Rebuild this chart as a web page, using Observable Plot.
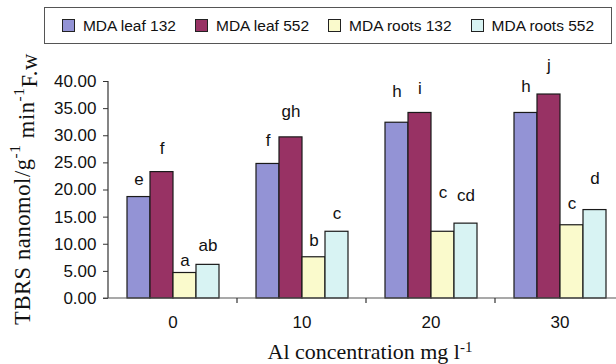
<!DOCTYPE html>
<html><head><meta charset="utf-8">
<script src="https://cdn.jsdelivr.net/npm/d3@7"></script>
<script src="https://cdn.jsdelivr.net/npm/@observablehq/plot@0.6"></script>
<style>
body{margin:0;background:#fff;}
#wrap{width:616px;height:364px;overflow:hidden;background:#fff;}
#legendRow{height:50px;position:relative;}
#legend{position:absolute;left:44px;top:7px;width:566px;height:35px;border:1px solid #555;display:flex;align-items:center;justify-content:center;gap:19px;font-family:"Liberation Sans",Arial,sans-serif;font-size:15.5px;color:#111;}
.item{display:flex;align-items:center;gap:8px}
.sw{width:13px;height:13px;border:1px solid #222;box-sizing:border-box}
svg{display:block}
</style>
</head><body>
<div id="wrap"><div id="legendRow"><div id="legend"></div></div><div id="chart"></div></div>
<script>
const concentrations = ["0", "10", "20", "30"];
const series = ["MDA leaf 132", "MDA leaf 552", "MDA roots 132", "MDA roots 552"];
const colors = ["#9393d5", "#983264", "#fafacc", "#d8f3f3"];
const leaf132 = [18.7, 24.8, 32.4, 34.2];
const leaf552 = [23.3, 29.7, 34.2, 37.6];
const roots132 = [4.7, 7.6, 12.3, 13.5];
const roots552 = [6.2, 12.3, 13.8, 16.3];
const lettersLeaf132 = ["e", "f", "h", "h"];
const lettersLeaf552 = ["f", "gh", "i", "j"];
const lettersRoots132 = ["a", "b", "c", "c"];
const lettersRoots552 = ["ab", "c", "cd", "d"];
// letter heights (data units)
const letterYLeaf132 = [21.9, 29.1, 38.2, 39.1];
const letterYLeaf552 = [27.6, 34.5, 38.7, 42.9];
const letterYRoots132 = [7.0, 10.7, 19.6, 17.5];
const letterYRoots552 = [9.8, 15.7, 19.0, 22.1];
const yTicks = [0, 5, 10, 15, 20, 25, 30, 35, 40];

const values = [leaf132, leaf552, roots132, roots552];
const letters = [lettersLeaf132, lettersLeaf552, lettersRoots132, lettersRoots552];
const letterY = [letterYLeaf132, letterYLeaf552, letterYRoots132, letterYRoots552];

const data = [];
concentrations.forEach((c, i) => series.forEach((s, j) => data.push({
  conc: c, series: s, value: values[j][i], letter: letters[j][i], ly: letterY[j][i]
})));

// legend
const leg = d3.select("#legend");
series.forEach((s, j) => {
  const it = leg.append("div").attr("class", "item");
  it.append("div").attr("class", "sw").style("background", colors[j]);
  it.append("span").text(s);
});

const plot = Plot.plot({
  width: 616, height: 314,
  marginLeft: 108, marginRight: -8, marginTop: 31, marginBottom: 66,
  style: {fontFamily: "'Liberation Sans', Arial, sans-serif", fontSize: "17px", background: "white", color: "#111", overflow: "hidden"},
  fx: {domain: concentrations, padding: 0, label: null},
  x: {domain: series, paddingInner: 0, paddingOuter: 0.774, axis: null},
  y: {domain: [0, 40], label: null},
  color: {domain: series, range: colors},
  marks: [
    Plot.barY(data, {fx: "conc", x: "series", y: "value", fill: "series", stroke: "#1a1a1a", strokeWidth: 1.2}),
    Plot.text(data, {fx: "conc", x: "series", y: "ly", text: "letter", fontSize: 17, fill: "#111"}),
    Plot.axisY(yTicks, {tickFormat: d3.format(".2f"), tickSize: 5, tickPadding: 7, fontSize: 17, label: null, stroke: "#333"}),
    Plot.axisFx({anchor: "bottom", tickSize: 0, tickPadding: 17, fontSize: 17, label: null})
  ]
});
document.getElementById("chart").appendChild(plot);

const svg = d3.select(plot);
const fx = plot.scale("fx"), y = plot.scale("y");
const y0 = y.apply(0), yTop = y.apply(40);
const left = fx.apply(concentrations[0]);
const g = svg.append("g").attr("stroke", "#333").attr("stroke-width", 1.2);
g.append("line").attr("x1", left).attr("x2", left).attr("y1", yTop).attr("y2", y0);
g.append("line").attr("x1", left - 5).attr("x2", 616).attr("y1", y0).attr("y2", y0).attr("stroke", "#555");
concentrations.slice(1).forEach(c => {
  const x = fx.apply(c);
  g.append("line").attr("x1", x).attr("x2", x).attr("y1", y0).attr("y2", y0 + 5);
});

function sup(t, s) { t.append("tspan").attr("font-size", "0.68em").attr("dy", "-0.5em").text(s); }
const xl = svg.append("text").attr("x", 370).attr("y", 309).attr("text-anchor", "middle")
  .attr("font-family", "'Liberation Serif', 'Times New Roman', serif").attr("font-size", 22).attr("fill", "#111");
xl.append("tspan").text("Al concentration mg l");
sup(xl, "-1");

const yl = svg.append("text").attr("transform", "translate(22,139) rotate(-90)").attr("text-anchor", "middle")
  .attr("dominant-baseline", "central")
  .attr("font-family", "'Liberation Serif', 'Times New Roman', serif").attr("font-size", 22.5).attr("fill", "#111")
  .attr("letter-spacing", "0.6");
yl.append("tspan").text("TBRS nanomol/g");
sup(yl, "-1");
yl.append("tspan").attr("dy", "0.5em").text(" min");
sup(yl, "-1");
yl.append("tspan").attr("dy", "0.5em").text("F.w");
</script>
</body></html>
